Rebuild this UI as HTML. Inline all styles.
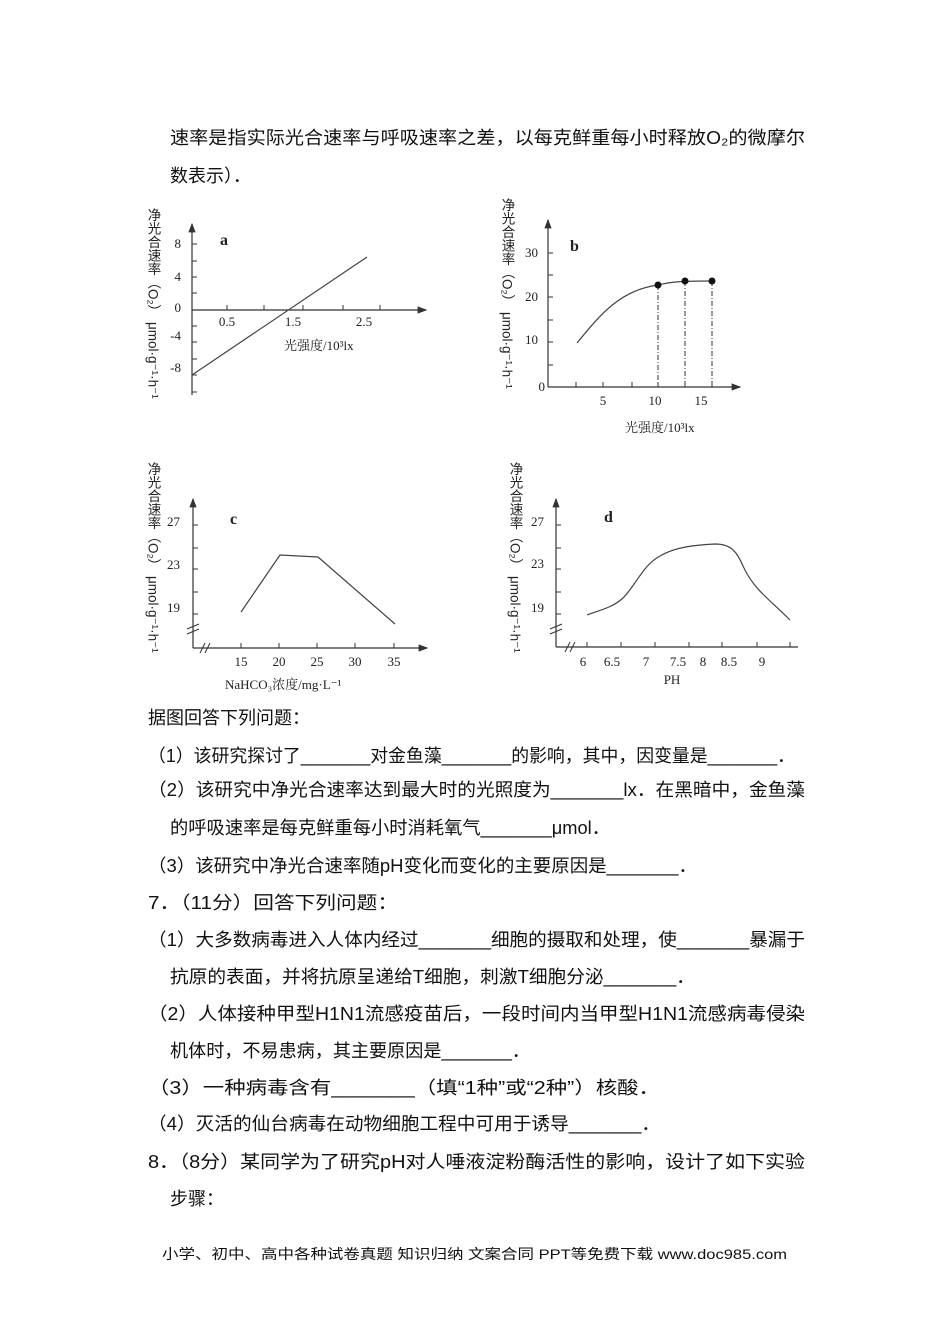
<!DOCTYPE html>
<html><head><meta charset="utf-8"><style>
html,body{margin:0;padding:0;background:#fff;width:950px;height:1344px;overflow:hidden}
svg{display:block}
.t{font-family:"Liberation Sans","Noto Sans CJK SC",sans-serif;font-size:18px;fill:#111}
.s{font-family:"Liberation Serif","Noto Serif CJK SC",serif;font-size:13px;fill:#222}
.l{font-family:"Liberation Serif",serif;font-size:16px;font-weight:bold;fill:#222}
.ax{stroke:#333;stroke-width:1.2;fill:none}
.cv{stroke:#444;stroke-width:1.2;fill:none}
.v{font-family:"Liberation Sans","Noto Sans CJK SC",sans-serif;font-size:13.5px;fill:#222;writing-mode:tb}
</style></head><body>
<svg width="950" height="1344" viewBox="0 0 950 1344" xmlns="http://www.w3.org/2000/svg">
<defs><marker id="ar" markerWidth="8" markerHeight="8" refX="7" refY="4" orient="auto"><path d="M0,1 L8,4 L0,7 Z" fill="#333"/></marker></defs>

<text class="t" x="170" y="144" textLength="635" lengthAdjust="spacingAndGlyphs">速率是指实际光合速率与呼吸速率之差，以每克鲜重每小时释放O₂的微摩尔</text>
<text class="t" x="170" y="182">数表示）．</text>

<!-- chart a -->
<g>
<line class="ax" x1="192" y1="395" x2="192" y2="224" marker-end="url(#ar)"/>
<line class="ax" x1="192" y1="310" x2="426" y2="310" marker-end="url(#ar)"/>
<g stroke="#333" stroke-width="1"><line x1="192" y1="244" x2="197" y2="244"/><line x1="192" y1="261" x2="197" y2="261"/><line x1="192" y1="277" x2="197" y2="277"/><line x1="192" y1="293" x2="197" y2="293"/><line x1="192" y1="326" x2="197" y2="326"/><line x1="192" y1="342" x2="197" y2="342"/><line x1="192" y1="359" x2="197" y2="359"/><line x1="192" y1="375" x2="197" y2="375"/><line x1="192" y1="392" x2="197" y2="392"/>
<line x1="227" y1="305" x2="227" y2="310"/><line x1="264" y1="305" x2="264" y2="310"/><line x1="303" y1="305" x2="303" y2="310"/><line x1="343" y1="305" x2="343" y2="310"/><line x1="380" y1="305" x2="380" y2="310"/></g>
<text class="s" x="181" y="248" text-anchor="end">8</text><text class="s" x="181" y="281" text-anchor="end">4</text><text class="s" x="181" y="312" text-anchor="end">0</text><text class="s" x="181" y="340" text-anchor="end">-4</text><text class="s" x="181" y="372" text-anchor="end">-8</text>
<text class="s" x="227" y="326" text-anchor="middle">0.5</text><text class="s" x="293" y="326" text-anchor="middle">1.5</text><text class="s" x="364" y="326" text-anchor="middle">2.5</text>
<text class="s" x="284" y="350">光强度/10³lx</text>
<text class="l" x="220" y="245">a</text>
<line class="cv" x1="192" y1="375" x2="367" y2="257"/>
<text class="v" x="153" y="208">净光合速率（O₂） μmol·g⁻¹·h⁻¹</text>
</g>

<!-- chart b -->
<g>
<line class="ax" x1="548" y1="387" x2="548" y2="220" marker-end="url(#ar)"/>
<line class="ax" x1="548" y1="387" x2="740" y2="387" marker-end="url(#ar)"/>
<g stroke="#333" stroke-width="1"><line x1="548" y1="253" x2="553" y2="253"/><line x1="548" y1="275" x2="553" y2="275"/><line x1="548" y1="297" x2="553" y2="297"/><line x1="548" y1="320" x2="553" y2="320"/><line x1="548" y1="342" x2="553" y2="342"/><line x1="548" y1="365" x2="553" y2="365"/>
<line x1="576" y1="382" x2="576" y2="387"/><line x1="603" y1="382" x2="603" y2="387"/><line x1="632" y1="382" x2="632" y2="387"/><line x1="658" y1="382" x2="658" y2="387"/><line x1="685" y1="382" x2="685" y2="387"/><line x1="712" y1="382" x2="712" y2="387"/></g>
<text class="s" x="538" y="257" text-anchor="end">30</text><text class="s" x="538" y="301" text-anchor="end">20</text><text class="s" x="538" y="344" text-anchor="end">10</text><text class="s" x="545" y="391" text-anchor="end">0</text>
<text class="s" x="603" y="405" text-anchor="middle">5</text><text class="s" x="655" y="405" text-anchor="middle">10</text><text class="s" x="701" y="405" text-anchor="middle">15</text>
<text class="s" x="625" y="432">光强度/10³lx</text>
<text class="l" x="570" y="251">b</text>
<path class="cv" d="M577,343 C600,315 620,290 658,285 C670,282 680,281 712,281"/>
<g stroke="#333" stroke-width="1" stroke-dasharray="5,2,1,2"><line x1="658" y1="285" x2="658" y2="387"/><line x1="685" y1="281" x2="685" y2="387"/><line x1="712" y1="281" x2="712" y2="387"/></g>
<circle cx="658" cy="285" r="3.5" fill="#111"/><circle cx="685" cy="281" r="3.5" fill="#111"/><circle cx="712" cy="281" r="3.5" fill="#111"/>
<text class="v" x="507" y="198">净光合速率（O₂） μmol·g⁻¹·h⁻¹</text>
</g>

<!-- chart c -->
<g>
<line class="ax" x1="193" y1="648" x2="193" y2="499" marker-end="url(#ar)"/>
<line class="ax" x1="193" y1="648" x2="427" y2="648" marker-end="url(#ar)"/>
<g stroke="#333" stroke-width="1"><line x1="193" y1="525" x2="198" y2="525"/><line x1="193" y1="548" x2="198" y2="548"/><line x1="193" y1="569" x2="198" y2="569"/><line x1="193" y1="592" x2="198" y2="592"/><line x1="193" y1="614" x2="198" y2="614"/>
<line x1="241" y1="643" x2="241" y2="648"/><line x1="279" y1="643" x2="279" y2="648"/><line x1="317" y1="643" x2="317" y2="648"/><line x1="355" y1="643" x2="355" y2="648"/><line x1="394" y1="643" x2="394" y2="648"/>
<line x1="187" y1="629" x2="199" y2="624"/><line x1="187" y1="634" x2="199" y2="629"/><line x1="200" y1="653" x2="205" y2="643"/><line x1="205" y1="653" x2="210" y2="643"/></g>
<text class="s" x="180" y="526" text-anchor="end">27</text><text class="s" x="180" y="569" text-anchor="end">23</text><text class="s" x="180" y="612" text-anchor="end">19</text>
<text class="s" x="241" y="666" text-anchor="middle">15</text><text class="s" x="279" y="666" text-anchor="middle">20</text><text class="s" x="317" y="666" text-anchor="middle">25</text><text class="s" x="355" y="666" text-anchor="middle">30</text><text class="s" x="394" y="666" text-anchor="middle">35</text>
<text class="s" x="225" y="689">NaHCO₃浓度/mg·L⁻¹</text>
<text class="l" x="230" y="524">c</text>
<polyline class="cv" points="241,612 280,555 318,557 395,624"/>
<text class="v" x="153" y="462">净光合速率（O₂） μmol·g⁻¹·h⁻¹</text>
</g>

<!-- chart d -->
<g>
<line class="ax" x1="556" y1="647" x2="556" y2="499" marker-end="url(#ar)"/>
<line class="ax" x1="556" y1="647" x2="798" y2="647"/>
<g stroke="#333" stroke-width="1"><line x1="556" y1="525" x2="561" y2="525"/><line x1="556" y1="548" x2="561" y2="548"/><line x1="556" y1="569" x2="561" y2="569"/><line x1="556" y1="592" x2="561" y2="592"/><line x1="556" y1="614" x2="561" y2="614"/>
<line x1="587" y1="642" x2="587" y2="647"/><line x1="621" y1="642" x2="621" y2="647"/><line x1="655" y1="642" x2="655" y2="647"/><line x1="689" y1="642" x2="689" y2="647"/><line x1="722" y1="642" x2="722" y2="647"/><line x1="757" y1="642" x2="757" y2="647"/><line x1="790" y1="642" x2="790" y2="647"/>
<line x1="550" y1="629" x2="562" y2="624"/><line x1="550" y1="634" x2="562" y2="629"/><line x1="565" y1="652" x2="570" y2="642"/><line x1="570" y1="652" x2="575" y2="642"/></g>
<text class="s" x="544" y="526" text-anchor="end">27</text><text class="s" x="544" y="568" text-anchor="end">23</text><text class="s" x="544" y="612" text-anchor="end">19</text>
<text class="s" x="583" y="666" text-anchor="middle">6</text><text class="s" x="612" y="666" text-anchor="middle">6.5</text><text class="s" x="646" y="666" text-anchor="middle">7</text><text class="s" x="678" y="666" text-anchor="middle">7.5</text><text class="s" x="703" y="666" text-anchor="middle">8</text><text class="s" x="729" y="666" text-anchor="middle">8.5</text><text class="s" x="762" y="666" text-anchor="middle">9</text>
<text class="s" x="672" y="684" text-anchor="middle">PH</text>
<text class="l" x="604" y="522">d</text>
<path class="cv" d="M587,615 C600,610 612,608 623,598 C636,585 643,565 660,556 C675,547 695,545 715,544 C735,544 738,556 745,570 C755,590 770,600 790,620"/>
<text class="v" x="515" y="462">净光合速率（O₂） μmol·g⁻¹·h⁻¹</text>
</g>

<text class="t" x="148" y="724">据图回答下列问题：</text>
<text class="t" x="148" y="762" textLength="647" lengthAdjust="spacingAndGlyphs">（1）该研究探讨了_______对金鱼藻_______的影响，其中，因变量是_______．</text>
<text class="t" x="148" y="796" textLength="657" lengthAdjust="spacingAndGlyphs">（2）该研究中净光合速率达到最大时的光照度为_______lx．在黑暗中，金鱼藻</text>
<text class="t" x="170" y="834" textLength="440" lengthAdjust="spacingAndGlyphs">的呼吸速率是每克鲜重每小时消耗氧气_______μmol．</text>
<text class="t" x="148" y="872" textLength="549" lengthAdjust="spacingAndGlyphs">（3）该研究中净光合速率随pH变化而变化的主要原因是_______．</text>
<text class="t" x="148" y="909" textLength="250" lengthAdjust="spacingAndGlyphs">7．（11分）回答下列问题：</text>
<text class="t" x="148" y="946" textLength="657" lengthAdjust="spacingAndGlyphs">（1）大多数病毒进入人体内经过_______细胞的摄取和处理，使_______暴漏于</text>
<text class="t" x="170" y="983" textLength="525" lengthAdjust="spacingAndGlyphs">抗原的表面，并将抗原呈递给T细胞，刺激T细胞分泌_______．</text>
<text class="t" x="148" y="1020" textLength="657" lengthAdjust="spacingAndGlyphs">（2）人体接种甲型H1N1流感疫苗后，一段时间内当甲型H1N1流感病毒侵染</text>
<text class="t" x="170" y="1057" textLength="360" lengthAdjust="spacingAndGlyphs">机体时，不易患病，其主要原因是_______．</text>
<text class="t" x="148" y="1094" textLength="512" lengthAdjust="spacingAndGlyphs">（3）一种病毒含有_______（填“1种”或“2种”）核酸．</text>
<text class="t" x="148" y="1130" textLength="512" lengthAdjust="spacingAndGlyphs">（4）灭活的仙台病毒在动物细胞工程中可用于诱导_______．</text>
<text class="t" x="148" y="1168" textLength="657" lengthAdjust="spacingAndGlyphs">8．（8分）某同学为了研究pH对人唾液淀粉酶活性的影响，设计了如下实验</text>
<text class="t" x="170" y="1205">步骤：</text>
<text class="t" x="162" y="1259" style="font-size:14px" textLength="625" lengthAdjust="spacingAndGlyphs">小学、初中、高中各种试卷真题  知识归纳  文案合同  PPT等免费下载    www.doc985.com</text>
</svg>
</body></html>
